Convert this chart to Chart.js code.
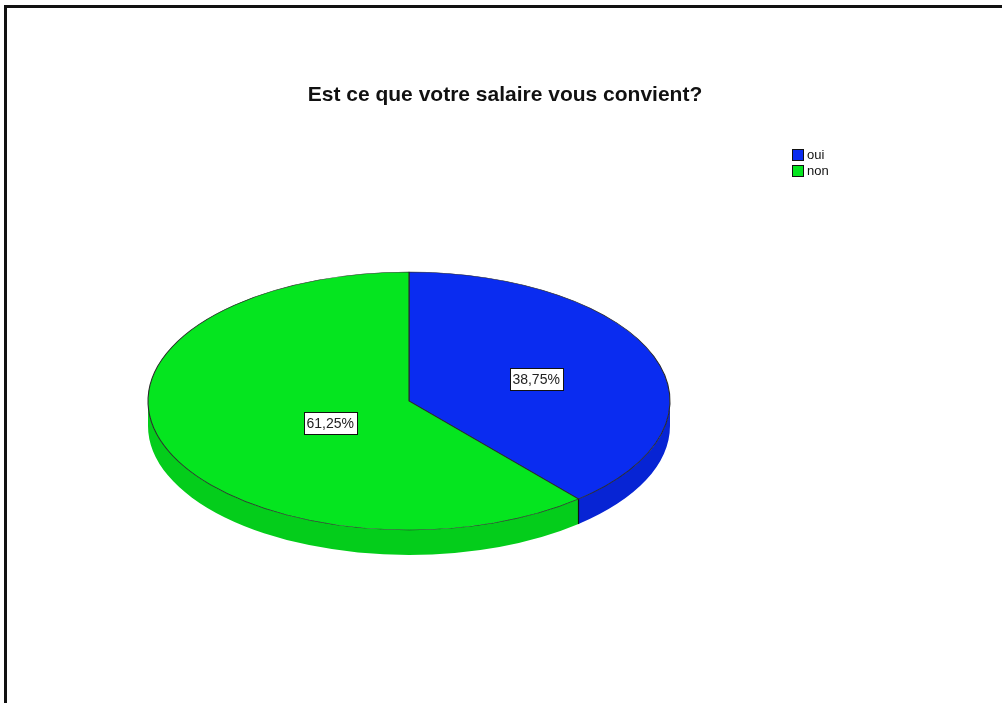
<!DOCTYPE html>
<html>
<head>
<meta charset="utf-8">
<script src="https://cdn.jsdelivr.net/npm/chart.js@4/dist/chart.umd.min.js"></script>
<style>
  html, body { margin: 0; padding: 0; background: #fff; }
  #wrap { position: relative; width: 1002px; height: 703px; overflow: hidden; }
  #frame { position: absolute; left: 4px; top: 5px; right: -10px; bottom: -10px;
           border-top: 3px solid #111; border-left: 3px solid #111; pointer-events: none; }
  canvas { position: absolute; left: 0; top: 0; }
</style>
</head>
<body>
<div id="wrap">
  <canvas id="pie" width="1002" height="703"></canvas>
  <div id="frame"></div>
</div>
<script>
const title = 'Est ce que votre salaire vous convient?';
const categories = ['oui', 'non'];
const percents = [38.75, 61.25];
const topColors = ['#0a2cf0', '#05e51f'];
const sideColors = ['#0724d4', '#04cd1b'];

const FONT = '"Liberation Sans", Arial, sans-serif';
const TILT = 0.494;   // vertical squash of the disc
const DEPTH = 25;     // thickness of the disc in px

function arcGeom(chart) {
  const arcs = chart.getDatasetMeta(0).data;
  const a = arcs[0];
  return { arcs, cx: a.x, cy: a.y, r: a.outerRadius };
}

// squashes the pie into an ellipse and draws the front wall under it
const tiltPlugin = {
  id: 'tilt',
  beforeDatasetsDraw(chart) {
    const ctx = chart.ctx;
    const { arcs, cx, cy, r } = arcGeom(chart);
    const ry = r * TILT;

    arcs.forEach((arc, i) => {
      const a0 = Math.max(arc.startAngle, 0);
      const a1 = Math.min(arc.endAngle, Math.PI);
      if (a1 <= a0) return;
      ctx.beginPath();
      ctx.ellipse(cx, cy, r, ry, 0, a0, a1);
      ctx.ellipse(cx, cy + DEPTH, r, ry, 0, a1, a0, true);
      ctx.closePath();
      ctx.fillStyle = sideColors[i];
      ctx.fill();
    });

    // vertical edges where slices meet on the visible wall
    ctx.strokeStyle = '#111';
    ctx.lineWidth = 1.2;
    arcs.forEach(arc => {
      const a = arc.endAngle;
      if (a > 0 && a < Math.PI) {
        const x = cx + r * Math.cos(a), y = cy + ry * Math.sin(a);
        ctx.beginPath();
        ctx.moveTo(x, y);
        ctx.lineTo(x, y + DEPTH);
        ctx.stroke();
      }
    });

    ctx.save();
    ctx.translate(cx, cy);
    ctx.scale(1, TILT);
    ctx.translate(-cx, -cy);
  },
  afterDatasetsDraw(chart) {
    chart.ctx.restore();
  }
};

// title, legend and percentage boxes
const decorPlugin = {
  id: 'decor',
  afterDraw(chart, args, opts) {
    const ctx = chart.ctx;
    ctx.save();

    ctx.fillStyle = '#111';
    ctx.font = 'bold 21px ' + FONT;
    ctx.textAlign = 'center';
    ctx.textBaseline = 'middle';
    ctx.fillText(title, opts.titleX, opts.titleY);

    ctx.font = '13px ' + FONT;
    ctx.textAlign = 'left';
    categories.forEach((c, i) => {
      const y = opts.legendY + i * 16;
      ctx.fillStyle = topColors[i];
      ctx.fillRect(opts.legendX, y, 12, 12);
      ctx.strokeStyle = '#111';
      ctx.lineWidth = 1;
      ctx.strokeRect(opts.legendX + 0.5, y + 0.5, 11, 11);
      ctx.fillStyle = '#111';
      ctx.fillText(c, opts.legendX + 15, y + 6.5);
    });

    const { arcs, cx, cy, r } = arcGeom(chart);
    ctx.font = '14px ' + FONT;
    ctx.textAlign = 'center';
    arcs.forEach((arc, i) => {
      const p = opts.labelPos[i];
      const ang = arc.startAngle + (arc.endAngle - arc.startAngle) * p.t;
      const x = cx + Math.cos(ang) * r * p.r;
      const y = cy + Math.sin(ang) * r * p.r * TILT;
      const txt = percents[i].toFixed(2).replace('.', ',') + '%';
      const w = Math.round(ctx.measureText(txt).width + 6), h = 22;
      const bx = Math.round(x - w / 2), by = Math.round(y - h / 2);
      ctx.fillStyle = '#fff';
      ctx.fillRect(bx, by, w, h);
      ctx.strokeStyle = '#111';
      ctx.lineWidth = 1;
      ctx.strokeRect(bx + 0.5, by + 0.5, w, h);
      ctx.fillStyle = '#222';
      ctx.fillText(txt, x, y + 1);
    });

    ctx.restore();
  }
};

new Chart(document.getElementById('pie'), {
  type: 'pie',
  data: {
    labels: categories,
    datasets: [{
      data: percents,
      backgroundColor: topColors,
      borderColor: '#2a2a2a',
      borderWidth: 1.1,
      hoverOffset: 0
    }]
  },
  plugins: [tiltPlugin, decorPlugin],
  options: {
    responsive: false,
    animation: false,
    devicePixelRatio: 1,
    radius: 261,
    layout: { padding: { left: 148, right: 332, top: 140, bottom: 41 } },
    events: [],
    plugins: {
      legend: { display: false },
      title: { display: false },
      tooltip: { enabled: false },
      decor: {
        titleX: 505,
        titleY: 95,
        legendX: 792,
        legendY: 149,
        labelPos: [{ t: 0.507, r: 0.516 }, { t: 0.458, r: 0.347 }]
      }
    }
  }
});
</script>
</body>
</html>
